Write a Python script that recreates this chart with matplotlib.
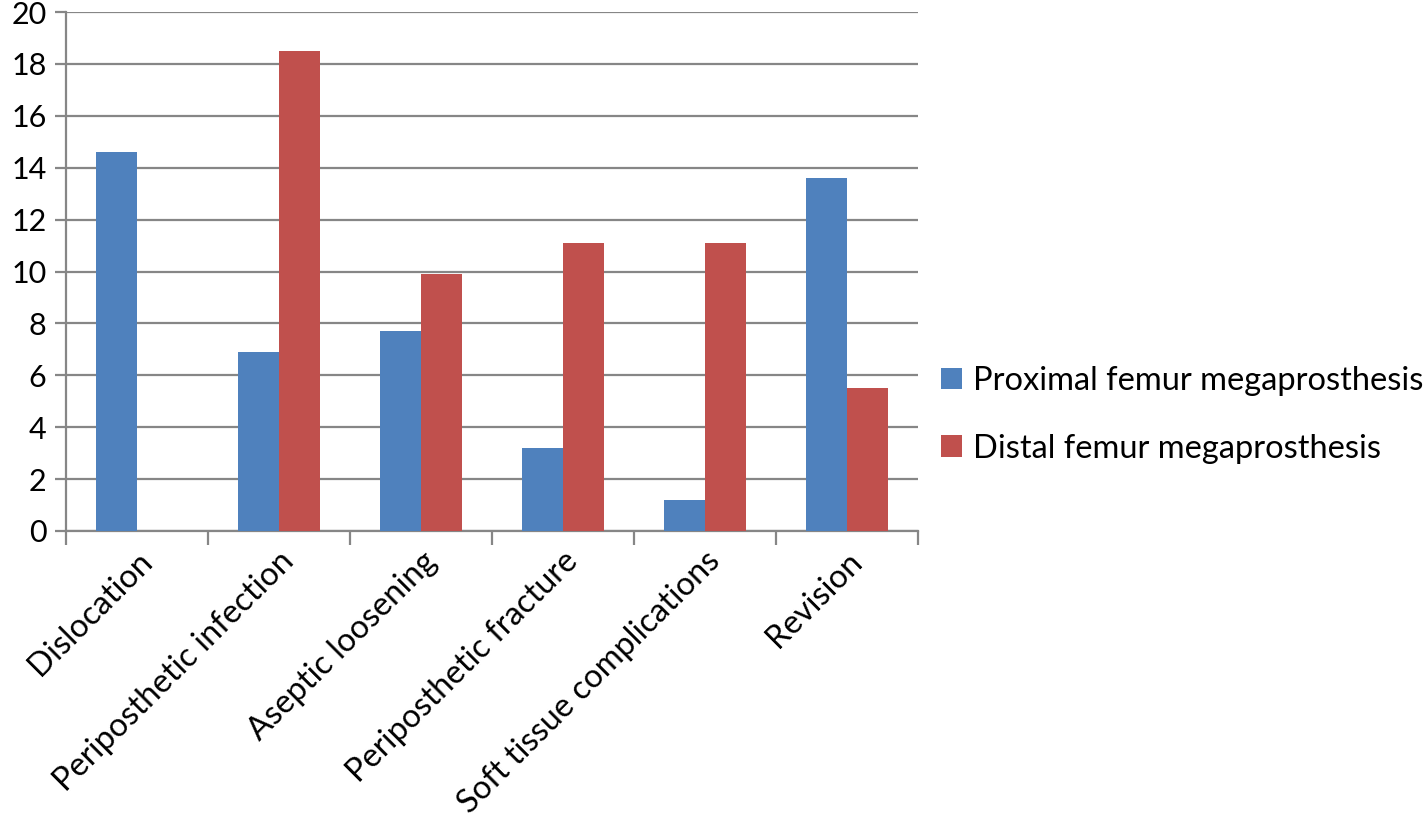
import numpy as np
import matplotlib
matplotlib.use("Agg")
from matplotlib import pyplot as plt

categories = ["Dislocation", "Periposthetic infection", "Aseptic loosening",
              "Periposthetic fracture", "Soft tissue complications", "Revision"]
proximal = [14.6, 6.9, 7.7, 3.2, 1.2, 13.6]
distal = [0, 18.5, 9.9, 11.1, 11.1, 5.5]
series_names = ["Proximal femur megaprosthesis", "Distal femur megaprosthesis"]

plt.rcParams['font.family'] = ['Lato', 'DejaVu Sans']

grey = '#868686'
blue = '#4F81BD'
red = '#C0504D'

fig = plt.figure(figsize=(14.26, 8.25), dpi=100)
ax = fig.add_axes([66 / 1426, 1 - 531 / 825, (918 - 66) / 1426, (531 - 12) / 825])

x = np.arange(len(categories))
w = 0.29
ax.bar(x - w / 2, proximal, w, color=blue, label=series_names[0], zorder=3)
ax.bar(x + w / 2, distal, w, color=red, label=series_names[1], zorder=3)

ax.set_xlim(-0.5, len(categories) - 0.5)
ax.set_ylim(0, 20)
ax.set_yticks(np.arange(0, 21, 2))
ax.yaxis.grid(True, color=grey, linewidth=1.6, zorder=0)
ax.tick_params(axis='y', length=8, width=1.6, color=grey, labelsize=22, pad=6)

ax.set_xticks(x)
ax.set_xticklabels(categories, rotation=45, ha='right', rotation_mode='anchor', fontsize=23.5)
ax.set_xticks(np.arange(-0.5, len(categories)), minor=True)
ax.tick_params(axis='x', which='major', length=0, pad=11)
ax.tick_params(axis='x', which='minor', length=10, width=1.6, color=grey)

for s in ['top', 'right']:
    ax.spines[s].set_visible(False)
for s in ['left', 'bottom']:
    ax.spines[s].set_color(grey)
    ax.spines[s].set_linewidth(1.6)

ax.legend(loc='center left', bbox_to_anchor=(1.0, 0.224), frameon=False, fontsize=23.5,
          handlelength=0.65, handleheight=0.65, handletextpad=0.35, labelspacing=1.15,
          borderaxespad=0.3)

fig.savefig("out.png", dpi=100)
